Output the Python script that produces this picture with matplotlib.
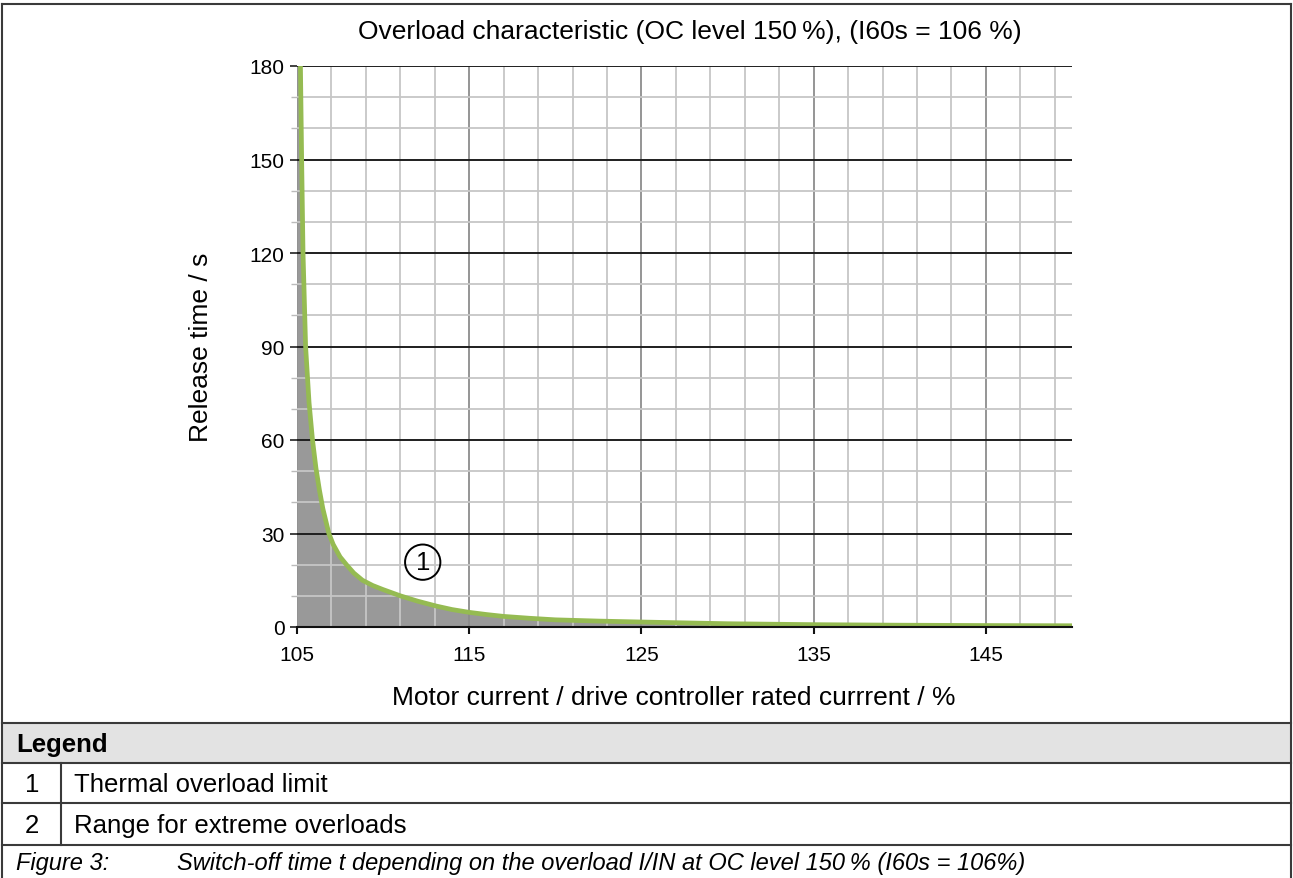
import numpy as np
import matplotlib
matplotlib.use("Agg")
import matplotlib.pyplot as plt
from matplotlib.ticker import FixedLocator, MultipleLocator
from matplotlib.patches import Rectangle
from matplotlib.lines import Line2D

plt.rcParams['font.family'] = ['Liberation Sans', 'DejaVu Sans']

# ---------------- data ----------------
current = [105.2, 105.27, 105.35, 105.5, 105.7, 105.9, 106.1, 106.3, 106.5, 106.85,
           107.1, 107.5, 107.9, 108.3, 108.8, 109.4, 110.0, 111.0, 112.0, 113.1,
           114.0, 115.0, 116.0, 117.0, 118.5, 120.0, 122.5, 125.0, 130.0, 135.0,
           140.0, 145.0, 150.0]
release_time = [180, 150, 120, 90, 72, 60, 51, 44, 38, 30,
                26.5, 22.5, 19.8, 17.3, 15, 13.3, 12, 10, 8.3, 6.7,
                5.6, 4.7, 4.0, 3.4, 2.8, 2.3, 1.9, 1.6, 1.05, 0.75,
                0.58, 0.47, 0.4]

x_ticks = [105, 115, 125, 135, 145]
y_ticks = [0, 30, 60, 90, 120, 150, 180]
x_range = (105, 150)
y_range = (0, 180)

title = "Overload characteristic (OC level 150\u2009%), (I60s = 106 %)"
x_label = "Motor current / drive controller rated currrent / %"
y_label = "Release time / s"
legend_title = "Legend"
legend_nums = ["1", "2"]
legend_texts = ["Thermal overload limit", "Range for extreme overloads"]
caption_label = "Figure 3:"
caption_text = "Switch-off time t depending on the overload I/IN at OC level 150\u2009% (I60s = 106%)"
marker_label = "1"
marker_pos = (112.3, 20.8)

# ---------------- figure ----------------
W, H = 1293, 879
fig = plt.figure(figsize=(W / 100, H / 100), dpi=100)

# background frame / table (pixel coordinates)
frame = fig.add_axes([0, 0, 1, 1])
frame.set_xlim(0, W)
frame.set_ylim(H, 0)
frame.axis('off')
frame.set_zorder(0)

edge = '#3a3a3a'
lw_t = 1.5
frame.add_patch(Rectangle((2, 724), W - 4, 40, facecolor='#e3e3e3', edgecolor='none'))
for yy in [5, 724, 764, 804, 846]:
    frame.add_line(Line2D([2, W - 2], [yy, yy], color=edge, lw=lw_t))
frame.add_line(Line2D([2, 2], [5, H], color=edge, lw=lw_t))
frame.add_line(Line2D([W - 2, W - 2], [5, H], color=edge, lw=lw_t))
frame.add_line(Line2D([61, 61], [764, 846], color=edge, lw=lw_t))

txt_size = 18.5
frame.text(16, 745, legend_title, fontsize=txt_size, fontweight='bold', va='center', ha='left')
for i, (n, t) in enumerate(zip(legend_nums, legend_texts)):
    yc = 785 + i * 41
    frame.text(32, yc, n, fontsize=txt_size, va='center', ha='center')
    frame.text(74, yc, t, fontsize=txt_size, va='center', ha='left')
frame.text(16, 864, caption_label, fontsize=17, style='italic', va='center', ha='left')
frame.text(177, 864, caption_text, fontsize=17, style='italic', va='center', ha='left')

# ---------------- chart ----------------
L, R, T, B = 297, 1072, 67, 628
ax = fig.add_axes([L / W, 1 - B / H, (R - L) / W, (B - T) / H])
ax.set_zorder(1)
ax.set_xlim(*x_range)
ax.set_ylim(*y_range)

ax.fill_between(np.r_[x_range[0], current], np.r_[release_time[0], release_time],
                color='#999999', lw=0, zorder=1)
ax.plot(current, release_time, color='#95bb52', lw=3.4, zorder=4,
        solid_capstyle='butt', solid_joinstyle='round')

ax.xaxis.set_major_locator(FixedLocator(x_ticks))
ax.xaxis.set_minor_locator(MultipleLocator(2, offset=1))
ax.yaxis.set_major_locator(FixedLocator(y_ticks))
ax.yaxis.set_minor_locator(MultipleLocator(10))

ax.grid(True, axis='x', which='minor', color='#c6c6c6', lw=1.3, zorder=2)
ax.grid(True, axis='x', which='major', color='#8c8c8c', lw=1.3, zorder=2)
ax.grid(True, axis='y', which='minor', color='#c6c6c6', lw=1.3, zorder=2)
ax.grid(True, axis='y', which='major', color='#1e1e1e', lw=1.4, zorder=2)

for s in ['top', 'right', 'left']:
    ax.spines[s].set_visible(False)
ax.spines['bottom'].set_color('#111111')
ax.spines['bottom'].set_linewidth(1.5)
ax.spines['bottom'].set_zorder(5)

ax.tick_params(axis='x', which='major', direction='out', length=5, width=1.5, color='#111111',
               labelsize=15, pad=8)
ax.tick_params(axis='x', which='minor', length=0)
ax.tick_params(axis='y', which='major', direction='out', length=5, width=1.3, color='#333333',
               labelsize=15, pad=4)
ax.tick_params(axis='y', which='minor', direction='out', length=4, width=1.0, color='#bbbbbb')

ax.set_xlabel(x_label, fontsize=19)
ax.xaxis.set_label_coords((674 - L) / (R - L), -(698 - B) / (B - T))
ax.xaxis.label.set_va('center')
ax.set_ylabel(y_label, fontsize=19, va='center')
ax.yaxis.set_label_coords((201 - L) / (R - L), 0.5)

fig.text(690 / W, 1 - 32 / H, title, fontsize=19, ha='center', va='center')

ax.text(marker_pos[0], marker_pos[1], marker_label, fontsize=18.5, ha='center', va='center',
        zorder=6, bbox=dict(boxstyle='circle,pad=0.22', fc='none', ec='black', lw=1.4))

fig.savefig('out.png', dpi=100)
